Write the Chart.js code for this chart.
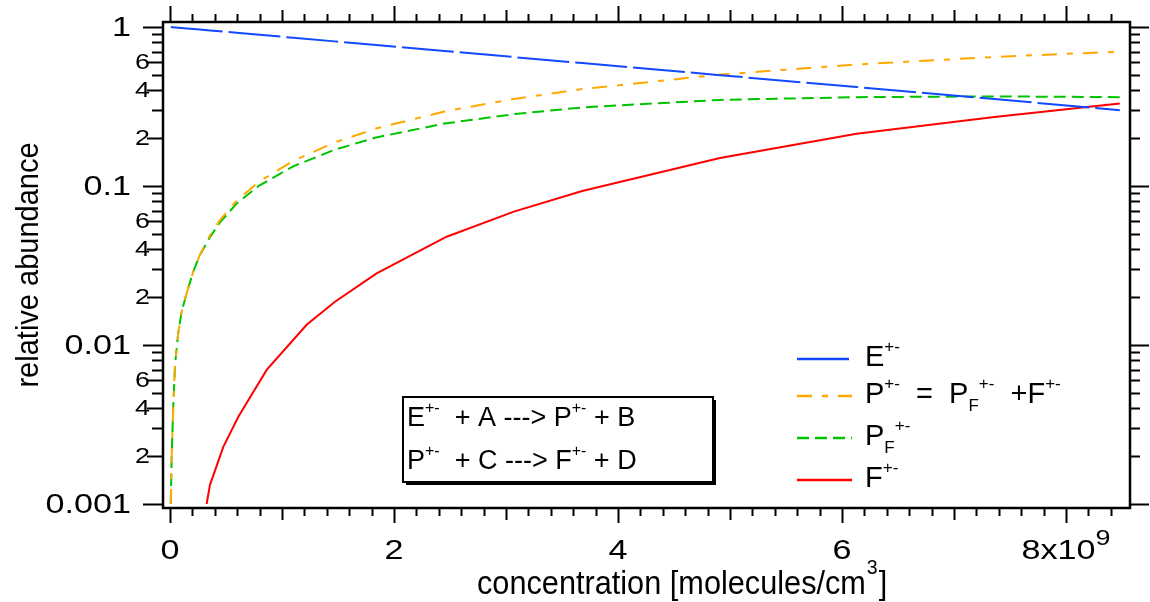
<!DOCTYPE html>
<html>
<head>
<meta charset="utf-8">
<script src="https://cdn.jsdelivr.net/npm/chart.js@4.4.1/dist/chart.umd.min.js"></script>
<style>
  html, body { margin: 0; padding: 0; background: #fff; }
  #wrap { width: 1150px; height: 602px; }
</style>
</head>
<body>
<div id="wrap"><canvas id="abundanceChart" width="1150" height="602"></canvas></div>
<script>
// concentration in units of 1e9 molecules/cm3
const concEP = [0.007, 0.015, 0.03, 0.045, 0.074, 0.104, 0.149, 0.208, 0.268, 0.357, 0.446, 0.595,
                0.8, 1.1, 1.47, 1.84, 2.45, 3.07, 3.68, 4.91, 6.13, 7.36, 8.48];
const eValues = [0.999, 0.998, 0.996, 0.994, 0.990, 0.985, 0.979, 0.971, 0.963, 0.951, 0.939, 0.919,
                 0.893, 0.856, 0.812, 0.770, 0.706, 0.647, 0.593, 0.498, 0.419, 0.352, 0.300];
const pValues = [0.001, 0.002, 0.0043, 0.0075, 0.012, 0.0162, 0.0212, 0.029, 0.037, 0.049, 0.061, 0.081,
                 0.107, 0.144, 0.188, 0.230, 0.294, 0.353, 0.407, 0.502, 0.581, 0.648, 0.700];
const pfValues = [0.001, 0.002, 0.0043, 0.0075, 0.012, 0.0162, 0.0212, 0.029, 0.037, 0.0477, 0.059, 0.0776,
                  0.101, 0.133, 0.169, 0.202, 0.247, 0.283, 0.312, 0.348, 0.362, 0.366, 0.362];
const concF = [0.327, 0.357, 0.476, 0.61, 0.863, 1.22, 1.473, 1.845, 2.47, 3.07, 3.68, 4.91, 6.13, 7.36, 8.48];
const fValues = [0.001, 0.00132, 0.00229, 0.00354, 0.00697, 0.0134, 0.0187, 0.0282, 0.048, 0.069, 0.093,
                 0.150, 0.213, 0.272, 0.330];

const xTickValues = [0, 2, 4, 6, 8];
const xTickLabels = ['0', '2', '4', '6', '8x10'];
const xTickExponent = '9';
const yDecadeValues = [0.001, 0.01, 0.1, 1];
const yDecadeLabels = ['0.001', '0.01', '0.1', '1'];
const yLabeledMantissas = [2, 4, 6];

const FONT = '"Liberation Sans", Arial, Helvetica, sans-serif';
const WIDE = 1.22; // tick labels are drawn wide in the original

function pts(xs, ys) {
    return xs.map((v, i) => ({ x: v, y: ys[i] }));
}

const seriesE = { label: 'E', data: pts(concEP, eValues), borderColor: '#1248ff', borderDash: [52, 6] };
const seriesP = { label: 'P', data: pts(concEP, pValues), borderColor: '#ffa800', borderDash: [15, 10, 6, 10] };
const seriesPF = { label: 'PF', data: pts(concEP, pfValues), borderColor: '#00c400', borderDash: [12, 6] };
const seriesF = { label: 'F', data: pts(concF, fValues), borderColor: '#ff0000', borderDash: [] };

// legend rows: text pieces (plain, sup, sub)
const legendRows = [
    [{ t: 'E' }, { t: '+-', sup: true }],
    [{ t: 'P' }, { t: '+-', sup: true }, { t: '  =  P' }, { t: 'F', sub: true }, { t: '+-', sup: true },
     { t: '  +F' }, { t: '+-', sup: true }],
    [{ t: 'P' }, { t: 'F', sub: true }, { t: '+-', sup: true }],
    [{ t: 'F' }, { t: '+-', sup: true }]
];
const reactionLines = [
    [{ t: 'E' }, { t: '+-', sup: true }, { t: '  + A ---> P' }, { t: '+-', sup: true }, { t: ' + B' }],
    [{ t: 'P' }, { t: '+-', sup: true }, { t: '  + C ---> F' }, { t: '+-', sup: true }, { t: ' + D' }]
];

function richText(ctx, parts, x, y, size) {
    let cx = x;
    for (const p of parts) {
        const small = p.sup || p.sub;
        const s = small ? Math.round(size * 0.6) : size;
        ctx.font = s + 'px ' + FONT;
        const dy = p.sup ? -size * 0.5 : (p.sub ? size * 0.28 : 0);
        ctx.fillText(p.t, cx, y + dy);
        cx += ctx.measureText(p.t).width;
    }
    return cx;
}

function wideText(ctx, txt, x, y, align, k) {
    ctx.save();
    ctx.translate(x, y);
    ctx.scale(k, 1);
    ctx.textAlign = align;
    ctx.fillText(txt, 0, 0);
    ctx.restore();
}

const axesPlugin = {
    id: 'igorAxes',
    afterDraw(chart) {
        const { ctx, chartArea: a, scales: { x, y } } = chart;
        ctx.save();
        ctx.strokeStyle = '#000';
        ctx.fillStyle = '#000';
        ctx.lineWidth = 2.5;
        ctx.lineCap = 'butt';
        ctx.setLineDash([]);
        ctx.strokeRect(a.left, a.top, a.right - a.left, a.bottom - a.top);

        // x ticks, every 0.2
        ctx.lineWidth = 2;
        ctx.beginPath();
        for (let i = 0; i * 0.2 <= x.max + 1e-9; i++) {
            const px = Math.round(x.getPixelForValue(i * 0.2)) + 0.5;
            const bot = i % 10 === 0 ? 15 : (i % 5 === 0 ? 12 : 8);
            const top = i % 10 === 0 ? 16 : (i % 5 === 0 ? 12 : 8);
            ctx.moveTo(px, a.bottom); ctx.lineTo(px, a.bottom + bot);
            ctx.moveTo(px, a.top); ctx.lineTo(px, a.top - top);
        }
        // y ticks, 1..9 per decade
        for (let d = -3; d <= 0; d++) {
            for (let m = 1; m <= 9; m++) {
                const v = m * Math.pow(10, d);
                if (v > y.max || v < y.min) continue;
                const py = Math.round(y.getPixelForValue(v)) + 0.5;
                const left = m === 1 ? 20 : (yLabeledMantissas.includes(m) ? 16 : 11);
                const right = m === 1 ? 19 : 10;
                ctx.moveTo(a.left, py); ctx.lineTo(a.left - left, py);
                ctx.moveTo(a.right, py); ctx.lineTo(a.right + right, py);
            }
        }
        ctx.stroke();

        // y labels
        ctx.textBaseline = 'middle';
        ctx.font = '28px ' + FONT;
        yDecadeValues.forEach((v, i) => {
            wideText(ctx, yDecadeLabels[i], 131, y.getPixelForValue(v) + 1, 'right', WIDE);
        });
        ctx.font = '22px ' + FONT;
        for (let d = -3; d < 0; d++) {
            yLabeledMantissas.forEach(m => {
                wideText(ctx, String(m), 150, y.getPixelForValue(m * Math.pow(10, d)) + 1, 'right', WIDE);
            });
        }

        // x labels
        ctx.textBaseline = 'alphabetic';
        xTickValues.forEach((v, i) => {
            const px = x.getPixelForValue(v);
            if (i === xTickValues.length - 1) {
                ctx.font = '28px ' + FONT;
                const w1 = ctx.measureText(xTickLabels[i]).width * WIDE;
                ctx.font = '22px ' + FONT;
                const w2 = ctx.measureText(xTickExponent).width * WIDE;
                const start = px - (w1 + w2) / 2;
                ctx.font = '28px ' + FONT;
                wideText(ctx, xTickLabels[i], start, 559, 'left', WIDE);
                ctx.font = '22px ' + FONT;
                wideText(ctx, xTickExponent, start + w1, 545, 'left', WIDE);
            } else {
                ctx.font = '28px ' + FONT;
                wideText(ctx, xTickLabels[i], px, 559, 'center', WIDE);
            }
        });

        // axis titles
        ctx.save();
        ctx.translate(477, 594);
        ctx.scale(0.93, 1);
        ctx.textAlign = 'left';
        ctx.font = '33px ' + FONT;
        const xt1 = 'concentration [molecules/cm';
        ctx.fillText(xt1, 0, 0);
        let tx = ctx.measureText(xt1).width;
        ctx.font = '21px ' + FONT;
        ctx.fillText('3', tx + 1, -20);
        tx += ctx.measureText('3').width + 2;
        ctx.font = '33px ' + FONT;
        ctx.fillText(']', tx, 0);
        ctx.restore();

        ctx.save();
        ctx.translate(38, 265);
        ctx.rotate(-Math.PI / 2);
        ctx.scale(1, 1.1);
        ctx.font = '29px ' + FONT;
        ctx.textAlign = 'center';
        ctx.fillText('relative abundance', 0, 0);
        ctx.restore();

        // legend
        const sets = chart.data.datasets;
        const rowY = [359, 396, 438, 480];
        const baseY = [366, 403, 445, 487];
        sets.forEach((ds, i) => {
            ctx.save();
            ctx.strokeStyle = ds.borderColor;
            ctx.lineWidth = 2.5;
            ctx.setLineDash(ds.borderDash);
            ctx.beginPath();
            ctx.moveTo(797, rowY[i]);
            ctx.lineTo(852, rowY[i]);
            ctx.stroke();
            ctx.restore();
            ctx.textAlign = 'left';
            richText(ctx, legendRows[i], 865, baseY[i], 29);
        });

        // reaction box
        ctx.fillRect(406, 400, 310, 85);
        ctx.fillStyle = '#fff';
        ctx.fillRect(403, 397, 310, 85);
        ctx.fillStyle = '#000';
        ctx.lineWidth = 2;
        ctx.strokeRect(403, 397, 310, 85);
        richText(ctx, reactionLines[0], 407, 426, 27);
        richText(ctx, reactionLines[1], 407, 469, 27);

        ctx.restore();
    }
};

window.onload = function () {
    const ctx = document.getElementById('abundanceChart').getContext('2d');
    const common = { borderWidth: 2, pointRadius: 0, fill: false, tension: 0 };
    new Chart(ctx, {
        type: 'line',
        data: {
            datasets: [seriesE, seriesP, seriesPF, seriesF].map(s => Object.assign({}, common, s))
        },
        options: {
            responsive: false,
            animation: false,
            devicePixelRatio: 1,
            layout: { padding: { left: 163, top: 22, right: 20, bottom: 94 } },
            scales: {
                x: { type: 'linear', min: -0.0625, max: 8.571, display: false },
                y: { type: 'logarithmic', min: 0.000944, max: 1.075, bounds: 'data', display: false }
            },
            plugins: { legend: { display: false }, tooltip: { enabled: false } }
        },
        plugins: [axesPlugin]
    });
};
</script>
</body>
</html>
